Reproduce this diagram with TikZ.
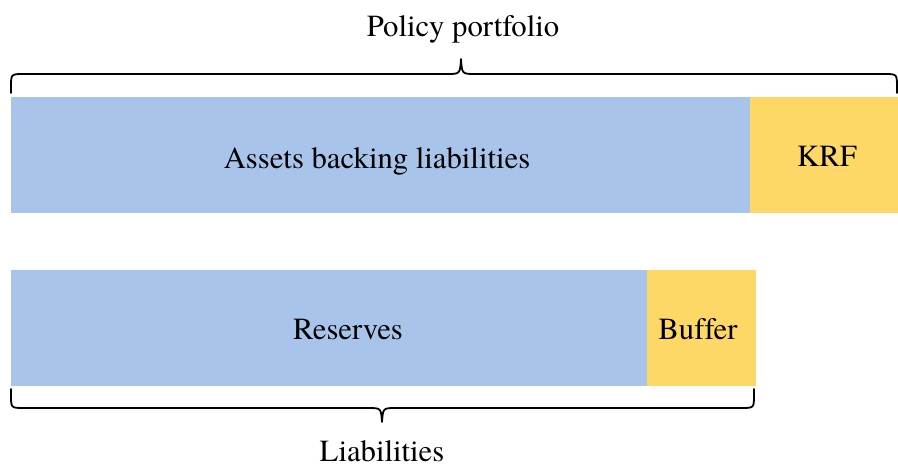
\documentclass[tikz,border=0pt]{standalone}
\usepackage{fontspec}
\setmainfont{TeX Gyre Termes}[Ligatures=CommonOff]
\definecolor{barblue}{HTML}{A9C4EB}
\definecolor{baryellow}{HTML}{FED867}
\begin{document}
\begin{tikzpicture}[x=1pt,y=-1pt,
  bar/.style={draw=none,inner sep=0pt,outer sep=0pt,anchor=north west},
  lbl/.style={inner sep=0pt,anchor=base,font=\rmfamily\fontsize{30.7}{36}\selectfont},
  bracepath/.style={line width=1.8pt,line cap=round,line join=round}]
\useasboundingbox (0,0) rectangle (898,466);
% top bar
\node[bar,fill=barblue,minimum width=739pt,minimum height=116pt] (assets) at (11,97) {};
\node[bar,fill=baryellow,minimum width=148pt,minimum height=116pt] (krf) at (750,97) {};
% bottom bar
\node[bar,fill=barblue,minimum width=636pt,minimum height=116pt] (reserves) at (11,270) {};
\node[bar,fill=baryellow,minimum width=109pt,minimum height=116pt] (buffer) at (647,270) {};
% labels
\node[lbl] (assetslbl) at (377,168) {Assets backing liabilities};
\node[lbl] (krflbl) at (827,166) {KRF};
\node[lbl] (reslbl) at (348,339) {Reserves};
\node[lbl] (buflbl) at (698,339) {Buffer};
\node[lbl] (pplbl) at (463,36) {Policy portfolio};
\node[lbl] (liablbl) at (382,461) {Liabilities};
% top brace
\coordinate (tb1) at (11,93);
\coordinate (tbtip) at (461,59);
\coordinate (tb2) at (897,93);
\draw[bracepath] (tb1) -- (11,87) .. controls (11,74) .. (24,74) -- (447,74)
  .. controls (460,74) .. (tbtip) .. controls (462,74) .. (475,74) -- (884,74)
  .. controls (897,74) .. (897,87) -- (tb2);
% bottom brace
\coordinate (bb1) at (11,389);
\coordinate (bbtip) at (382,422);
\coordinate (bb2) at (754,389);
\draw[bracepath] (bb1) -- (11,395) .. controls (11,408) .. (24,408) -- (368,408)
  .. controls (381,408) .. (bbtip) .. controls (383,408) .. (396,408) -- (741,408)
  .. controls (754,408) .. (754,395) -- (bb2);
\end{tikzpicture}
\end{document}
